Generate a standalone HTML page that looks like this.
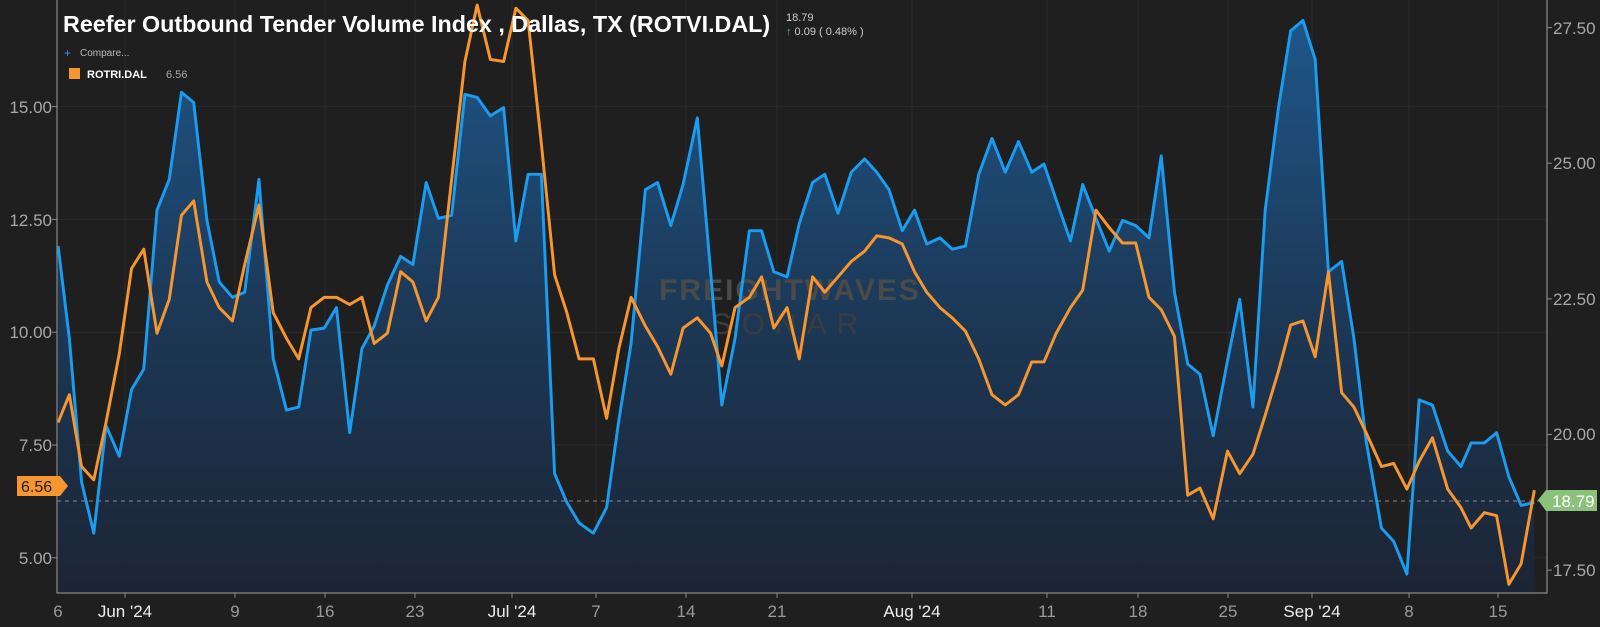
<!DOCTYPE html>
<html><head><meta charset="utf-8"><style>
html,body{margin:0;padding:0;background:#1f1f1f;}
svg{display:block;font-family:"Liberation Sans",sans-serif;}
</style></head><body>
<svg width="1600" height="627" viewBox="0 0 1600 627">
<defs>
<linearGradient id="g" x1="0" y1="0" x2="0" y2="1">
<stop offset="0" stop-color="#1f5688"/>
<stop offset="0.5" stop-color="#1c3856"/>
<stop offset="1" stop-color="#1c2331"/>
</linearGradient>
<clipPath id="c"><rect x="57" y="0" width="1490" height="593"/></clipPath>
</defs>
<rect width="1600" height="627" fill="#1f1f1f"/>
<g stroke="#2b2b2b" stroke-width="1">
<line x1="57" x2="1547" y1="106.6" y2="106.6"/><line x1="57" x2="1547" y1="219.4" y2="219.4"/>
<line x1="57" x2="1547" y1="332.2" y2="332.2"/><line x1="57" x2="1547" y1="445" y2="445"/>
<line x1="57" x2="1547" y1="557.8" y2="557.8"/>
<line x1="125" x2="125" y1="0" y2="593"/><line x1="235" x2="235" y1="0" y2="593"/><line x1="325" x2="325" y1="0" y2="593"/><line x1="415" x2="415" y1="0" y2="593"/><line x1="512" x2="512" y1="0" y2="593"/><line x1="596" x2="596" y1="0" y2="593"/><line x1="686" x2="686" y1="0" y2="593"/><line x1="777" x2="777" y1="0" y2="593"/><line x1="912" x2="912" y1="0" y2="593"/><line x1="1047" x2="1047" y1="0" y2="593"/><line x1="1138" x2="1138" y1="0" y2="593"/><line x1="1228" x2="1228" y1="0" y2="593"/><line x1="1312" x2="1312" y1="0" y2="593"/><line x1="1409" x2="1409" y1="0" y2="593"/><line x1="1498" x2="1498" y1="0" y2="593"/>
</g>
<g clip-path="url(#c)">
<g transform="scale(1.0195,1.0253)">
<path fill="url(#g)" d="M57,240 L68,330 80,470 92,520 104,415 117,445 129,380 141,360 154,205 166,175 178,90 190,100 203,215 215,275 228,290 240,285 254,175 268,350 281,400 293,397 305,322 318,320 330,300 343,422 355,340 367,318 380,278 393,250 405,258 418,178 430,213 443,210 456,92 468,95 481,113 494,105 506,235 518,170 531,170 544,462 556,490 568,510 582,520 595,495 607,410 619,335 633,185 645,178 658,220 670,180 684,115 697,265 708,395 721,330 735,225 747,225 759,265 772,270 784,218 797,178 809,170 822,208 835,168 848,155 860,168 872,185 885,225 897,205 909,238 922,232 934,243 947,240 960,170 973,135 986,168 999,138 1012,168 1024,160 1036,195 1050,235 1062,180 1075,213 1088,245 1101,215 1114,220 1127,232 1139,152 1152,285 1165,355 1177,365 1190,425 1204,352 1216,292 1229,397 1241,205 1254,105 1266,30 1278,20 1290,58 1303,265 1316,255 1328,330 1340,430 1355,515 1367,528 1380,560 1392,390 1405,395 1420,440 1433,455 1443,432 1456,432 1468,422 1480,465 1492,493 1505,490 L1505,600 L57,600 Z"/>
</g>
</g>
<text x="790" y="300" font-size="30" font-weight="bold" fill="#4a4a4a" text-anchor="middle" letter-spacing="2">FREIGHTWAVES</text>
<text x="790" y="334" font-size="30" fill="#3c3c3c" text-anchor="middle" letter-spacing="10">SONAR</text>
<line x1="57" x2="1547" y1="501" y2="501" stroke="#888" stroke-dasharray="4,4" stroke-width="1"/>
<g clip-path="url(#c)" fill="none" stroke-width="3" stroke-linejoin="round">
<g transform="scale(1.0195,1.0253)">
<polyline stroke="#1a9cf0" stroke-width="2.9" points="57,240 68,330 80,470 92,520 104,415 117,445 129,380 141,360 154,205 166,175 178,90 190,100 203,215 215,275 228,290 240,285 254,175 268,350 281,400 293,397 305,322 318,320 330,300 343,422 355,340 367,318 380,278 393,250 405,258 418,178 430,213 443,210 456,92 468,95 481,113 494,105 506,235 518,170 531,170 544,462 556,490 568,510 582,520 595,495 607,410 619,335 633,185 645,178 658,220 670,180 684,115 697,265 708,395 721,330 735,225 747,225 759,265 772,270 784,218 797,178 809,170 822,208 835,168 848,155 860,168 872,185 885,225 897,205 909,238 922,232 934,243 947,240 960,170 973,135 986,168 999,138 1012,168 1024,160 1036,195 1050,235 1062,180 1075,213 1088,245 1101,215 1114,220 1127,232 1139,152 1152,285 1165,355 1177,365 1190,425 1204,352 1216,292 1229,397 1241,205 1254,105 1266,30 1278,20 1290,58 1303,265 1316,255 1328,330 1340,430 1355,515 1367,528 1380,560 1392,390 1405,395 1420,440 1433,455 1443,432 1456,432 1468,422 1480,465 1492,493 1505,490"/>
<polyline stroke="#f7962e" stroke-width="2.9" points="57,412 68,385 80,455 92,468 104,412 117,345 129,262 141,243 154,325 166,292 178,210 190,196 203,275 215,300 228,313 240,258 254,200 268,305 281,330 293,350 305,300 318,290 330,290 343,297 355,290 367,335 380,325 393,265 405,275 418,313 430,290 443,175 456,60 468,5 481,58 494,60 506,8 518,20 531,140 544,268 556,305 568,350 582,350 595,408 607,340 619,290 633,318 645,338 658,365 670,320 684,310 697,325 708,357 721,300 735,290 747,270 759,320 772,300 784,350 797,270 809,285 822,270 835,255 848,245 860,230 872,232 885,238 897,265 909,285 922,300 934,310 947,323 960,350 973,385 986,395 999,385 1012,353 1024,353 1036,325 1050,300 1062,283 1075,205 1088,222 1101,237 1114,237 1127,290 1139,302 1152,328 1165,483 1177,476 1190,506 1204,440 1216,462 1229,443 1241,405 1254,362 1266,317 1278,313 1290,348 1303,265 1316,383 1328,397 1340,422 1355,455 1367,452 1380,477 1392,450 1405,427 1420,477 1433,495 1443,515 1456,500 1468,503 1480,570 1492,550 1505,478"/>
</g>
</g>
<g stroke="#8a8a8a" stroke-width="1.2" fill="none">
<polyline points="57,0 57,593 1547,593 1547,0"/>
</g>
<g stroke="#8a8a8a" stroke-width="1">
<line x1="125" x2="125" y1="593" y2="598"/><line x1="235" x2="235" y1="593" y2="598"/><line x1="325" x2="325" y1="593" y2="598"/><line x1="415" x2="415" y1="593" y2="598"/><line x1="512" x2="512" y1="593" y2="598"/><line x1="596" x2="596" y1="593" y2="598"/><line x1="686" x2="686" y1="593" y2="598"/><line x1="777" x2="777" y1="593" y2="598"/><line x1="912" x2="912" y1="593" y2="598"/><line x1="1047" x2="1047" y1="593" y2="598"/><line x1="1138" x2="1138" y1="593" y2="598"/><line x1="1228" x2="1228" y1="593" y2="598"/><line x1="1312" x2="1312" y1="593" y2="598"/><line x1="1409" x2="1409" y1="593" y2="598"/><line x1="1498" x2="1498" y1="593" y2="598"/>
<line x1="52" x2="57" y1="106.6" y2="106.6"/><line x1="52" x2="57" y1="219.4" y2="219.4"/><line x1="52" x2="57" y1="332.2" y2="332.2"/><line x1="52" x2="57" y1="445" y2="445"/><line x1="52" x2="57" y1="557.8" y2="557.8"/>
<line x1="1547" x2="1552" y1="27.6" y2="27.6"/><line x1="1547" x2="1552" y1="163.2" y2="163.2"/><line x1="1547" x2="1552" y1="298.9" y2="298.9"/><line x1="1547" x2="1552" y1="434.5" y2="434.5"/><line x1="1547" x2="1552" y1="570.1" y2="570.1"/>
</g>
<g font-size="17" fill="#a8a8a8" text-anchor="end">
<text x="52" y="113">15.00</text><text x="52" y="226">12.50</text><text x="52" y="338">10.00</text><text x="52" y="451">7.50</text><text x="52" y="564">5.00</text>
</g>
<g font-size="17" fill="#a8a8a8">
<text x="1553" y="34">27.50</text><text x="1553" y="169">25.00</text><text x="1553" y="305">22.50</text><text x="1553" y="440">20.00</text><text x="1553" y="576">17.50</text>
</g>
<g font-size="17" fill="#9a9a9a" text-anchor="middle">
<text x="58" y="617">6</text>
<text x="125" y="617" fill="#eee">Jun '24</text><text x="235" y="617">9</text><text x="325" y="617">16</text><text x="415" y="617">23</text>
<text x="512" y="617" fill="#eee">Jul '24</text><text x="596" y="617">7</text><text x="686" y="617">14</text><text x="777" y="617">21</text>
<text x="912" y="617" fill="#eee">Aug '24</text><text x="1047" y="617">11</text><text x="1138" y="617">18</text><text x="1228" y="617">25</text>
<text x="1312" y="617" fill="#eee">Sep '24</text><text x="1409" y="617">8</text><text x="1498" y="617">15</text>
</g>
<rect x="0" y="598" width="52" height="29" fill="#1f1f1f" opacity="0.6"/>
<path d="M17,476 H60 L68,486 L60,496 H17 Z" fill="#f7962e"/>
<text x="21" y="492" font-size="16" fill="#1f1f1f">6.56</text>
<path d="M1546,490 L1538,500 L1546,511 H1597 V490 Z" fill="#8bc17a"/>
<text x="1552" y="507" font-size="17" fill="#fff">18.79</text>
<text x="63" y="32" font-size="23.3" font-weight="bold" fill="#fff">Reefer Outbound Tender Volume Index , Dallas, TX (ROTVI.DAL)</text>
<text x="786" y="21" font-size="11" fill="#ccc">18.79</text>
<text x="786" y="35" font-size="11" fill="#ccc"><tspan fill="#4cc38a">↑</tspan> 0.09 ( 0.48% )</text>
<text x="64" y="57" font-size="12" fill="#3f8fe6">+</text>
<text x="80" y="56" font-size="10" fill="#bbb">Compare...</text>
<rect x="69" y="68" width="11" height="11" fill="#f7962e"/>
<text x="87" y="78" font-size="11" font-weight="bold" fill="#fff">ROTRI.DAL</text>
<text x="166" y="78" font-size="11" fill="#aaa">6.56</text>
</svg>
</body></html>
